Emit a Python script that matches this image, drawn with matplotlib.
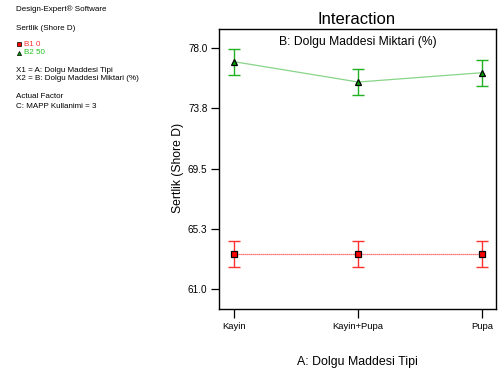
import matplotlib
matplotlib.use("Agg")
import matplotlib.pyplot as plt

categories = ["Kayin", "Kayin+Pupa", "Pupa"]
b1_values = [63.45, 63.45, 63.45]
b2_values = [77.06, 75.62, 76.28]
b1_err = [0.93, 0.93, 0.93]
b2_err = [0.93, 0.93, 0.93]
y_ticks = [61.0, 65.25, 69.5, 73.75, 78.0]
y_tick_labels = ["61.0", "65.3", "69.5", "73.8", "78.0"]

plt.rcParams["font.family"] = ["Liberation Sans", "DejaVu Sans"]

fig = plt.figure(figsize=(4.99, 3.74), dpi=100)
W, H = 499, 374
ax = fig.add_axes([218.7 / W, 1 - 308.7 / H, (496 - 218.7) / W, (308.7 - 29) / H])

x = list(range(len(categories)))
red = "#ff0000"
green = "#00a000"

ax.plot(x, b1_values, color="#ff4848", lw=0.9, ls=(0, (1, 0.6)), zorder=2)
ax.errorbar(x, b1_values, yerr=b1_err, fmt="none", ecolor="#ff3030", elinewidth=1.0,
            capsize=4.4, capthick=1.0, zorder=3)
ax.plot(x, b1_values, ls="none", marker="s", ms=4.2, mfc=red, mec="black", mew=0.9, zorder=4)

ax.plot(x, b2_values, color="#88d488", lw=0.9, zorder=2)
ax.errorbar(x, b2_values, yerr=b2_err, fmt="none", ecolor="#20b020", elinewidth=1.0,
            capsize=4.4, capthick=1.0, zorder=3)
ax.plot(x, b2_values, ls="none", marker="^", ms=4.5, mfc=green, mec="black", mew=0.9, zorder=4)

ax.set_xlim(-0.123, 2.11)
ax.set_ylim(59.59, 79.37)
ax.set_xticks(x)
ax.set_xticklabels(categories, fontsize=6.8)
ax.set_yticks(y_ticks)
ax.set_yticklabels(y_tick_labels, fontsize=7.2)
ax.tick_params(axis="y", direction="out", length=6, width=0.9, colors="black", pad=2)
ax.tick_params(axis="x", direction="out", length=6.5, width=0.9, colors="black", pad=3)
for s in ax.spines.values():
    s.set_linewidth(1.0)

ax.text(0.5, 0.975, "B: Dolgu Maddesi Miktari (%)", transform=ax.transAxes,
        ha="center", va="top", fontsize=8.7)
fig.text(357 / W, 1 - 19 / H, "Interaction", ha="center", va="center", fontsize=12)
fig.text(357 / W, 1 - 362 / H, "A: Dolgu Maddesi Tipi", ha="center", va="center", fontsize=8.9)
fig.text(178 / W, 1 - 168 / H, "Sertlik (Shore D)", ha="center", va="center",
         rotation=90, fontsize=8.7)

fs = 5.8
fig.text(16 / W, 1 - 9 / H, "Design-Expert® Software", fontsize=fs, va="center")
fig.text(16 / W, 1 - 28 / H, "Sertlik (Shore D)", fontsize=fs, va="center")
fig.text(24 / W, 1 - 44 / H, "B1 0", fontsize=fs, va="center", color="#ff3030")
fig.text(24 / W, 1 - 53 / H, "B2 50", fontsize=fs, va="center", color="#20c020")
fig.lines.append(plt.Line2D([19 / W], [1 - 44 / H], transform=fig.transFigure,
                            marker="s", ms=2.5, mfc=red, mec="black", mew=0.5, ls="none"))
fig.lines.append(plt.Line2D([19 / W], [1 - 53 / H], transform=fig.transFigure,
                            marker="^", ms=3, mfc=green, mec="black", mew=0.5, ls="none"))
fig.text(16 / W, 1 - 70 / H, "X1 = A: Dolgu Maddesi Tipi", fontsize=fs, va="center")
fig.text(16 / W, 1 - 79 / H, "X2 = B: Dolgu Maddesi Miktari (%)", fontsize=fs, va="center")
fig.text(16 / W, 1 - 97 / H, "Actual Factor", fontsize=fs, va="center")
fig.text(16 / W, 1 - 106 / H, "C: MAPP Kullanimi = 3", fontsize=fs, va="center")

fig.savefig("out.png", dpi=100)
